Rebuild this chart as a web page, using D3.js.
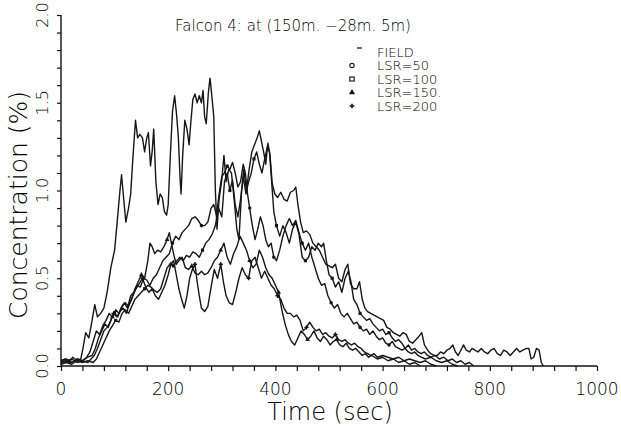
<!DOCTYPE html>
<html>
<head>
<meta charset="utf-8">
<script src="https://cdn.jsdelivr.net/npm/d3@7"></script>
<style>
  body { margin: 0; background: #fff; }
  text { font-family: "DejaVu Sans", sans-serif; fill: #000; }
</style>
</head>
<body>
<div id="chart"></div>
<script>
// values: [time (s), concentration (%)]
const field = [[0,0.03],[8,0.04],[15,0.02],[22,0.05],[30,0.03],[37,0.04],[41,0.1],[46,0.19],[52,0.16],[58,0.26],[63,0.35],[68,0.28],[74,0.3],[80,0.33],[86,0.42],[93,0.56],[100,0.66],[106,0.86],[110,1.0],[113,1.09],[117,0.95],[121,0.82],[126,0.9],[130,0.98],[134,1.18],[139,1.4],[143,1.3],[147,1.32],[152,1.3],[156,1.22],[160,1.3],[163,1.33],[167,1.14],[170,1.22],[173,1.35],[177,1.05],[181,0.92],[185,0.98],[189,0.96],[193,0.88],[197,0.86],[200,0.92],[204,1.2],[208,1.45],[212,1.54],[216,1.42],[219,1.3],[222,1.08],[224,0.98],[227,1.2],[231,1.4],[235,1.35],[239,1.26],[242,1.38],[246,1.52],[250,1.55],[254,1.5],[258,1.54],[262,1.5],[265,1.57],[268,1.42],[271,1.38],[275,1.56],[278,1.64],[282,1.52],[285,1.42],[288,1.0],[291,0.78],[295,0.95],[300,1.06],[304,1.2],[308,1.05],[313,1.12],[318,1.1],[323,0.95],[328,0.78],[332,0.72],[337,1.0],[341,1.12],[346,1.0],[351,1.12],[356,1.22],[361,1.26],[366,1.3],[370,1.34],[374,1.28],[378,1.22],[382,1.15],[386,1.27],[390,1.2],[394,1.04],[399,0.98],[404,0.96],[410,0.99],[416,0.95],[422,0.94],[428,0.99],[434,1.0],[438,1.02],[442,0.92],[447,0.82],[452,0.76],[458,0.77],[464,0.75],[470,0.7],[476,0.68],[482,0.66],[488,0.62],[494,0.58],[500,0.57],[506,0.56],[512,0.58],[518,0.5],[524,0.48],[530,0.55],[535,0.58],[540,0.47],[546,0.44],[552,0.44],[557,0.48],[562,0.38],[567,0.33],[572,0.31],[578,0.3],[584,0.29],[590,0.28],[596,0.27],[602,0.26],[608,0.22],[614,0.21],[620,0.19],[626,0.18],[632,0.17],[638,0.19],[644,0.18],[650,0.14],[656,0.13],[662,0.15],[668,0.17],[673,0.19],[678,0.12],[684,0.09],[690,0.07],[696,0.06],[702,0.06],[708,0.08],[714,0.07],[720,0.09],[726,0.1],[731,0.12],[736,0.08],[741,0.06],[746,0.09],[751,0.12],[756,0.09],[762,0.08],[767,0.1],[772,0.09],[778,0.08],[784,0.1],[790,0.08],[796,0.07],[802,0.09],[808,0.1],[814,0.07],[820,0.06],[826,0.09],[832,0.08],[838,0.06],[844,0.08],[850,0.1],[856,0.08],[862,0.09],[868,0.1],[873,0.1],[877,0.04],[882,0.05],[887,0.1],[892,0.09],[896,0.02],[900,0]];

const lsr50 = [[0,0.02],[10,0.03],[20,0.02],[30,0.04],[40,0.03],[50,0.05],[58,0.06],[64,0.1],[70,0.16],[76,0.2],[82,0.24],[88,0.22],[94,0.27],[100,0.3],[106,0.28],[112,0.33],[118,0.36],[124,0.33],[130,0.4],[136,0.42],[142,0.46],[148,0.45],[154,0.5],[160,0.49],[166,0.46],[172,0.5],[178,0.52],[184,0.56],[190,0.6],[196,0.62],[202,0.64],[208,0.7],[214,0.74],[220,0.72],[226,0.76],[232,0.78],[238,0.8],[244,0.84],[250,0.85],[256,0.83],[262,0.8],[268,0.8],[274,0.82],[280,0.9],[285,0.92],[290,0.86],[295,0.98],[300,1.08],[305,1.1],[310,1.14],[315,1.12],[320,1.16],[325,1.1],[330,1.02],[335,1.05],[340,1.15],[344,1.1],[348,0.98],[352,0.9],[357,0.8],[362,0.72],[367,0.78],[372,0.85],[377,0.8],[382,0.72],[387,0.68],[392,0.7],[397,0.62],[402,0.6],[408,0.66],[414,0.74],[420,0.8],[426,0.84],[432,0.8],[438,0.83],[444,0.76],[450,0.7],[456,0.66],[462,0.7],[468,0.62],[474,0.56],[480,0.5],[486,0.46],[492,0.47],[498,0.4],[504,0.36],[510,0.33],[516,0.35],[522,0.3],[528,0.28],[534,0.3],[540,0.27],[546,0.24],[552,0.25],[558,0.22],[564,0.2],[570,0.21],[576,0.18],[582,0.2],[588,0.17],[594,0.15],[600,0.16],[606,0.13],[612,0.12],[618,0.14],[624,0.11],[630,0.1],[636,0.09],[642,0.1],[648,0.08],[654,0.07],[660,0.08],[666,0.06],[672,0.05],[680,0.04],[690,0.05],[700,0.03],[710,0.02],[720,0.03],[730,0.01],[740,0]];

const lsr100 = [[0,0.01],[10,0.02],[20,0.01],[30,0.03],[40,0.02],[50,0.03],[60,0.02],[66,0.04],[72,0.08],[78,0.12],[84,0.16],[90,0.2],[96,0.23],[102,0.26],[108,0.25],[114,0.3],[120,0.32],[126,0.3],[132,0.34],[138,0.38],[144,0.4],[150,0.42],[156,0.44],[162,0.46],[168,0.45],[174,0.43],[180,0.42],[186,0.44],[192,0.5],[198,0.56],[204,0.58],[210,0.57],[216,0.6],[222,0.62],[228,0.6],[234,0.63],[240,0.62],[246,0.65],[252,0.64],[258,0.62],[264,0.66],[270,0.7],[276,0.72],[282,0.75],[288,0.8],[294,0.9],[300,0.85],[305,1.05],[310,1.1],[315,1.0],[320,1.06],[325,0.92],[330,0.85],[335,0.95],[340,1.08],[345,0.98],[350,1.05],[355,1.1],[360,1.18],[365,1.22],[370,1.15],[375,1.1],[380,1.18],[385,1.25],[389,1.22],[393,1.05],[397,0.88],[402,0.8],[408,0.74],[414,0.8],[420,0.76],[426,0.7],[432,0.78],[438,0.82],[444,0.75],[450,0.62],[456,0.6],[462,0.62],[468,0.68],[474,0.66],[480,0.7],[486,0.68],[490,0.7],[495,0.6],[500,0.52],[506,0.5],[512,0.45],[518,0.48],[524,0.42],[530,0.5],[536,0.54],[541,0.48],[546,0.38],[552,0.35],[558,0.3],[564,0.28],[570,0.26],[576,0.27],[582,0.24],[588,0.22],[594,0.2],[600,0.21],[606,0.18],[612,0.19],[618,0.16],[624,0.14],[630,0.15],[636,0.13],[642,0.1],[648,0.12],[654,0.09],[660,0.1],[666,0.08],[672,0.07],[678,0.08],[684,0.06],[690,0.05],[698,0.06],[706,0.04],[714,0.05],[722,0.03],[730,0.04],[738,0.02],[746,0.03],[754,0.01],[762,0.02],[770,0]];

const lsr150 = [[0,0.03],[10,0.04],[20,0.02],[30,0.04],[40,0.03],[48,0.05],[54,0.08],[60,0.14],[66,0.2],[72,0.18],[78,0.23],[84,0.26],[90,0.3],[96,0.28],[102,0.32],[108,0.3],[114,0.34],[120,0.36],[126,0.34],[132,0.38],[138,0.44],[144,0.48],[150,0.52],[156,0.5],[162,0.6],[166,0.7],[170,0.68],[175,0.64],[180,0.66],[186,0.65],[192,0.68],[198,0.72],[202,0.76],[206,0.7],[210,0.64],[215,0.58],[220,0.6],[226,0.62],[232,0.56],[238,0.55],[244,0.57],[250,0.53],[256,0.52],[262,0.54],[268,0.52],[274,0.53],[280,0.56],[286,0.6],[292,0.62],[298,0.66],[304,0.7],[310,0.62],[316,0.58],[322,0.64],[328,0.68],[334,0.74],[340,0.7],[346,0.66],[352,0.6],[358,0.56],[364,0.58],[370,0.66],[376,0.62],[382,0.56],[388,0.52],[394,0.5],[400,0.46],[406,0.42],[412,0.32],[418,0.24],[424,0.18],[430,0.14],[436,0.12],[442,0.16],[448,0.2],[454,0.18],[460,0.15],[466,0.17],[472,0.2],[478,0.16],[484,0.14],[490,0.17],[496,0.15],[502,0.12],[508,0.14],[514,0.15],[520,0.12],[526,0.11],[532,0.13],[538,0.1],[544,0.09],[550,0.1],[556,0.08],[562,0.06],[568,0.07],[574,0.05],[580,0.06],[590,0.04],[600,0.05],[610,0.03],[620,0.04],[630,0.02],[640,0.03],[650,0.01],[660,0.02],[670,0]];

const lsr200 = [[0,0.02],[10,0.03],[20,0.04],[30,0.02],[40,0.03],[50,0.02],[56,0.04],[62,0.06],[68,0.1],[74,0.15],[80,0.2],[86,0.22],[92,0.25],[98,0.3],[104,0.28],[110,0.31],[116,0.33],[122,0.3],[128,0.36],[134,0.4],[140,0.44],[146,0.47],[152,0.5],[158,0.45],[164,0.42],[170,0.44],[176,0.4],[182,0.38],[188,0.42],[194,0.46],[200,0.52],[205,0.58],[210,0.6],[215,0.52],[220,0.44],[225,0.38],[230,0.33],[235,0.4],[240,0.5],[245,0.55],[250,0.58],[254,0.48],[258,0.4],[262,0.33],[268,0.31],[274,0.34],[280,0.45],[286,0.55],[292,0.5],[298,0.58],[303,0.48],[308,0.4],[314,0.36],[320,0.35],[326,0.42],[332,0.5],[338,0.56],[344,0.52],[350,0.5],[356,0.6],[362,0.62],[368,0.56],[374,0.5],[380,0.54],[386,0.5],[392,0.46],[398,0.44],[404,0.4],[410,0.38],[416,0.33],[422,0.3],[428,0.3],[434,0.28],[440,0.29],[446,0.26],[452,0.2],[458,0.22],[464,0.25],[470,0.22],[476,0.2],[482,0.21],[488,0.18],[494,0.19],[500,0.17],[506,0.16],[512,0.18],[518,0.15],[524,0.14],[530,0.15],[536,0.13],[542,0.12],[548,0.13],[554,0.11],[560,0.1],[566,0.08],[572,0.07],[578,0.06],[584,0.07],[590,0.05],[600,0.06],[610,0.05],[620,0.04],[630,0.05],[640,0.03],[650,0.04],[660,0.03],[670,0.02],[680,0.03],[690,0.01],[700,0]];

const seriesNames = ["FIELD", "LSR=50", "LSR=100", "LSR=150.", "LSR=200"];
const seriesSymbols = ["dash", "circle", "square", "triangle", "plus"];
const xTicks = [0, 200, 400, 600, 800, 1000];
const yTicks = [0, 0.5, 1.0, 1.5, 2.0];

const width = 621, height = 429;
const margin = {top: 15, left: 61, right: 24, bottom: 63};

const svg = d3.select("#chart").append("svg")
  .attr("width", width)
  .attr("height", height);

const x = d3.scaleLinear().domain([0, 1000]).range([margin.left, width - margin.right]);
const y = d3.scaleLinear().domain([0, 2]).range([height - margin.bottom, margin.top]);

// curves
const line = d3.line().x(d => x(d[0])).y(d => y(d[1]));
const allSeries = [field, lsr50, lsr100, lsr150, lsr200];

svg.selectAll(".curve")
  .data(allSeries)
  .enter().append("path")
  .attr("class", "curve")
  .attr("d", line)
  .attr("fill", "none")
  .attr("stroke", "#161616")
  .attr("stroke-width", 1.4)
  .attr("stroke-linejoin", "round");

// sparse markers on the model curves, like the scan's blobs
const symbolType = {circle: d3.symbolCircle, square: d3.symbolSquare, triangle: d3.symbolTriangle, plus: d3.symbolCross};
allSeries.forEach((s, i) => {
  if (i === 0) return;
  svg.selectAll(".m" + i)
    .data(s.filter((d, j) => j % 9 === 4 && d[1] > 0.08))
    .enter().append("path")
    .attr("transform", d => `translate(${x(d[0])},${y(d[1])})`)
    .attr("d", d3.symbol().type(symbolType[seriesSymbols[i]]).size(10))
    .attr("fill", "#161616");
});

// axes
const xAxis = d3.axisBottom(x).tickValues(d3.range(0, 1001, 40)).tickSize(5).tickFormat("");
const yAxis = d3.axisLeft(y).tickValues(d3.range(0, 2.01, 0.1)).tickSize(4).tickFormat("");

const gx = svg.append("g").attr("transform", `translate(0,${y(0)})`).call(xAxis);
const gy = svg.append("g").attr("transform", `translate(${x(0)},0)`).call(yAxis);
[gx, gy].forEach(g => {
  g.select(".domain").attr("stroke", "#111").attr("stroke-width", 1.4);
  g.selectAll(".tick line").attr("stroke", "#111").attr("stroke-width", 1.2);
});
gx.select(".domain").attr("d", `M${x(0)},0H${x(1000)}`);
gy.select(".domain").attr("d", `M0,${y(0)}V${y(2)}`);

svg.selectAll(".xlab")
  .data(xTicks)
  .enter().append("text")
  .attr("x", d => x(d))
  .attr("y", y(0) + 29)
  .attr("text-anchor", "middle")
  .style("font-size", "17px")
  .style("font-weight", 200)
  .text(d => d);

svg.selectAll(".ylab")
  .data(yTicks)
  .enter().append("text")
  .attr("transform", d => `translate(${x(0) - 13},${y(d)}) rotate(-90)`)
  .attr("text-anchor", "middle")
  .style("font-size", "16px")
  .style("font-weight", 200)
  .text(d => d.toFixed(1));

// axis titles
svg.append("text")
  .attr("x", 330)
  .attr("y", 420)
  .attr("text-anchor", "middle")
  .style("font-size", "24px")
  .style("font-weight", 200)
  .text("Time (sec)");

svg.append("text")
  .attr("transform", "translate(27,205) rotate(-90)")
  .attr("text-anchor", "middle")
  .style("font-size", "25px")
  .style("font-weight", 200)
  .text("Concentration (%)");

// title
svg.append("text")
  .attr("x", 293)
  .attr("y", 31)
  .attr("text-anchor", "middle")
  .style("font-size", "15px")
  .text("Falcon 4: at (150m. \u221228m. 5m)")
  .style("font-weight", 200);

// legend
const legend = svg.append("g").attr("transform", "translate(352,52)");
const rows = legend.selectAll(".row")
  .data(seriesNames)
  .enter().append("g")
  .attr("transform", (d, i) => `translate(0,${i * 13.5})`);

rows.append("text")
  .attr("x", 25)
  .attr("dy", "0.35em")
  .style("font-size", "13px")
  .style("font-weight", 200)
  .text(d => d);

rows.each(function(d, i) {
  const g = d3.select(this);
  const s = seriesSymbols[i];
  if (s === "dash") {
    g.append("line").attr("x1", 5).attr("x2", 10).attr("y1", -4).attr("y2", -4)
      .attr("stroke", "#111").attr("stroke-width", 1.3);
  } else if (s === "circle") {
    g.append("circle").attr("r", 2.2).attr("fill", "none").attr("stroke", "#111").attr("stroke-width", 1.1);
  } else if (s === "square") {
    g.append("rect").attr("x", -2.2).attr("y", -2).attr("width", 4.4).attr("height", 4)
      .attr("fill", "none").attr("stroke", "#111").attr("stroke-width", 1.1);
  } else {
    g.append("path").attr("d", d3.symbol().type(symbolType[s]).size(s === "plus" ? 12 : 16))
      .attr("fill", "#111");
  }
});
</script>
</body>
</html>
